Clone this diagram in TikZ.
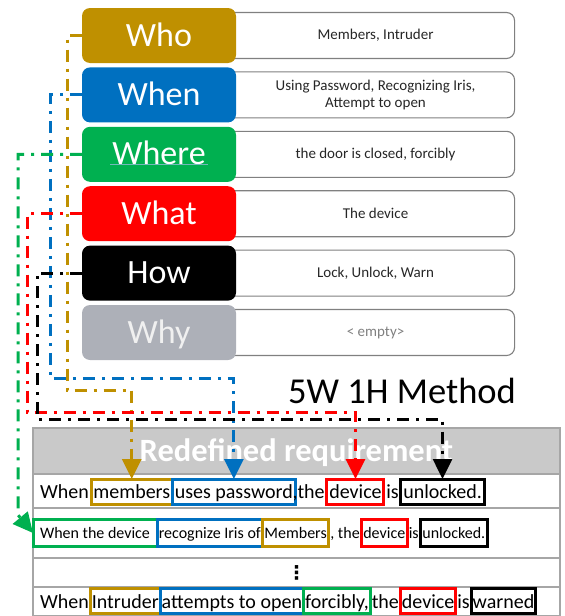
\documentclass[tikz,border=0pt]{standalone}
\usepackage{fontspec}
\setmainfont{Carlito}
\newfontfamily\symfont{DejaVu Sans}
\usetikzlibrary{positioning,arrows.meta,backgrounds}
\definecolor{whocol}{HTML}{BF9000}
\definecolor{whencol}{HTML}{0070C0}
\definecolor{wherecol}{HTML}{00B050}
\definecolor{whatcol}{HTML}{FF0000}
\definecolor{howcol}{HTML}{000000}
\definecolor{whycol}{HTML}{ADB0B8}
\definecolor{headcol}{HTML}{C9C9C9}
\definecolor{framecol}{HTML}{808080}

\begin{document}
\begin{tikzpicture}[x=1pt,y=-1pt]
		\tikzstyle{cat}=[rectangle, rounded corners=8pt, minimum width=154pt, minimum height=55pt, inner sep=0pt, outer sep=0pt, text=white, font=\fontsize{34}{40}\selectfont, text height=21pt, text depth=0pt, node distance=4.4pt]
		\tikzstyle{info}=[rectangle, rounded corners=8pt, draw=framecol, line width=1.1pt, minimum width=302pt, minimum height=46pt, inner sep=0pt]
		\tikzstyle{infotext}=[text=black!85, font=\fontsize{15}{17}\selectfont, align=center, xshift=12pt]
		\tikzstyle{tabrow}=[rectangle, draw=black!35, line width=1.2pt, minimum width=527pt, inner sep=0pt, outer sep=0pt, node distance=0pt]
		\tikzstyle{word}=[inner xsep=2.3pt, inner ysep=2.5pt, outer sep=0pt, text height=17pt, text depth=3pt, font=\fontsize{20}{24}\selectfont, node distance=0pt]
		\tikzstyle{tightword}=[word, inner xsep=1.5pt]
		\tikzstyle{smallword}=[word, inner xsep=1.8pt, inner ysep=4.5pt, text height=14pt, text depth=4pt, font=\fontsize{16}{19}\selectfont]
		\tikzstyle{whobox}=[draw=whocol, line width=3pt]
		\tikzstyle{whenbox}=[draw=whencol, line width=3pt]
		\tikzstyle{wherebox}=[draw=wherecol, line width=3pt]
		\tikzstyle{whatbox}=[draw=whatcol, line width=3pt]
		\tikzstyle{howbox}=[draw=howcol, line width=3pt]
		\tikzstyle{connect}=[line width=3pt, dash pattern=on 12pt off 7pt on 3pt off 7pt, -{Triangle[width=19pt,length=20pt]}]
		\useasboundingbox (0,0) rectangle (565,616);
		
		\node[cat, fill=whocol] (who) at (159,35.5) {Who};
		\node[cat, fill=whencol, below=of who] (when) {When};
		\node[cat, fill=wherecol, below=of when] (where) {Where};
		\node[cat, fill=whatcol, below=of where] (what) {What};
		\node[cat, fill=howcol, below=of what] (how) {How};
		\node[cat, fill=whycol, text=white!94!black, below=of how] (why) {Why};
		\draw[teal!55!white, line width=1pt] ([xshift=28pt, yshift=17pt]where.south west) -- ([xshift=-28pt, yshift=17pt]where.south east);
		
		\begin{scope}[on background layer]
		\node[info, right=-24pt of who, label={[infotext]center:Members, Intruder}] (whoinfo) {};
		\node[info, right=-24pt of when, label={[infotext]center:Using Password, Recognizing Iris,\\Attempt to open}] (wheninfo) {};
		\node[info, right=-24pt of where, label={[infotext]center:the door is closed, forcibly}] (whereinfo) {};
		\node[info, right=-24pt of what, label={[infotext]center:The device}] (whatinfo) {};
		\node[info, right=-24pt of how, label={[infotext]center:Lock, Unlock, Warn}] (howinfo) {};
		\node[info, right=-24pt of why, label={[infotext, text=black!50]center:< empty>}] (whyinfo) {};
		\end{scope}
		
		\node[font=\fontsize{36.5}{42}\selectfont, anchor=base] (title) at (402,403) {5W 1H Method};
		
		% table
		\node[tabrow, fill=headcol, minimum height=46pt, text=white, font=\bfseries\fontsize{32.5}{38}\selectfont, text height=21pt, text depth=0pt] (header) at (296.5,451) {Redefined requirement};
		\node[tabrow, below=of header, minimum height=34pt] (row1) {};
		\node[tabrow, below=of row1, minimum height=50pt] (row2) {};
		\node[tabrow, below=of row2, minimum height=29pt, font=\symfont\bfseries\fontsize{19}{20}\selectfont] (row3) {⋮};
		\node[tabrow, below=of row3, minimum height=29pt] (row4) {};
		
		\node[word, anchor=base west] (when1) at ([xshift=4.7pt, yshift=-7.5pt]row1.west) {When};
		\node[word, whobox, base right=of when1] (members1) {members};
		\node[word, whenbox, base right=of members1] (password1) {uses password};
		\node[word, base right=of password1] (the1) {\llap{,}the};
		\node[word, whatbox, base right=of the1] (device1) {device};
		\node[word, base right=of device1] (is1) {is};
		\node[word, howbox, base right=of is1] (unlocked1) {unlocked.};
		
		\node[smallword, wherebox, anchor=west, minimum width=124pt] (where2) at (row2.west) {When the device};
		\node[smallword, whenbox, base right=of where2] (iris2) {recognize Iris of};
		\node[smallword, whobox, base right=of iris2] (members2) {Members};
		\node[smallword, base right=of members2] (the2) {, the};
		\node[smallword, whatbox, base right=of the2] (device2) {device};
		\node[smallword, base right=of device2] (is2) {is};
		\node[smallword, howbox, base right=of is2] (unlocked2) {unlocked.};
		
		\node[tightword, anchor=base west] (when4) at ([xshift=5.5pt, yshift=-6.5pt]row4.west) {When};
		\node[tightword, whobox, base right=of when4] (intruder4) {Intruder};
		\node[tightword, whenbox, base right=of intruder4] (open4) {attempts to open};
		\node[tightword, wherebox, base right=of open4] (forcibly4) {forcibly,};
		\node[tightword, base right=of forcibly4] (the4) {the};
		\node[tightword, whatbox, base right=of the4] (device4) {device};
		\node[tightword, base right=of device4] (is4) {is};
		\node[tightword, howbox, base right=of is4] (warned4) {warned};
		
		\coordinate (whobend) at (67,390);
		\coordinate (whenbend) at (50,378);
		\coordinate (wherebend) at (18,515);
		\coordinate (whatbend) at (27,412);
		\coordinate (howbend) at (37,419);
		
		\draw[connect, whocol] (who.west) -| (whobend) -| (members1.north);
		\draw[connect, whencol] (when.west) -| (whenbend) -| (password1.north);
		\draw[connect, wherecol] (where.west) -| (wherebend) -- (where2.west);
		\draw[connect, whatcol] (what.west) -| (whatbend) -| (device1.north);
		\draw[connect, howcol] (how.west) -| (howbend) -| (unlocked1.north);
	\end{tikzpicture}
\end{document}
